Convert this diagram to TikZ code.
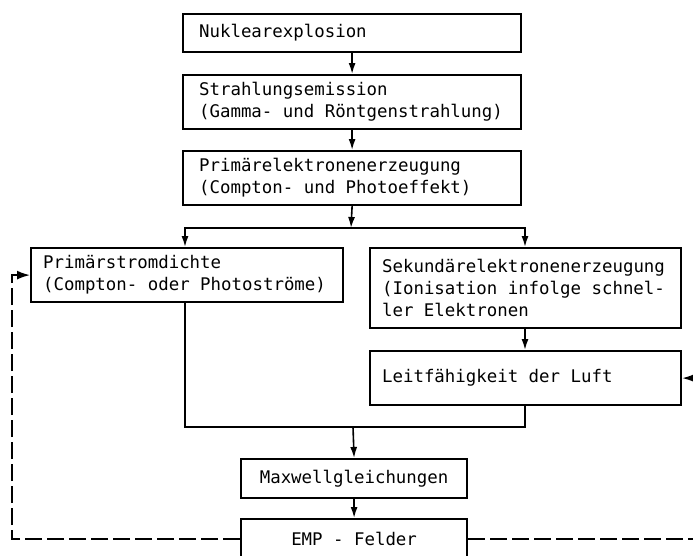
\documentclass[tikz,border=0pt]{standalone}
\usepackage{fontspec}
\setmonofont{DejaVu Sans Mono}
\usetikzlibrary{arrows.meta}
\newcommand{\fixspacing}{\spaceskip=10.47pt plus 0pt minus 0pt\relax}
\tikzset{
  box/.style={draw, line width=2.2pt, rectangle, anchor=north west, align=left,
    font=\ttfamily\fontsize{17.4}{22}\selectfont, inner ysep=0pt,
    execute at begin node=\fixspacing},
  conn/.style={line width=1.6pt, -{Latex[length=11pt,width=7pt]}},
  plainline/.style={line width=1.6pt},
  dashline/.style={line width=1.8pt, dash pattern=on 17pt off 5pt},
  dasharrow/.style={dashline, -{Latex[length=13pt,width=9pt]}},
}
\begin{document}
\begin{tikzpicture}[x=1pt,y=-1pt]
\useasboundingbox (0,0) rectangle (693,555);
\clip (0,0) rectangle (693,555);
\node[box, text width=306pt, inner xsep=16pt, minimum height=38pt] (n1) at (182,13) {Nuklearexplosion};
\node[box, text width=306pt, inner xsep=16pt, minimum height=54pt] (n2) at (182,74) {Strahlungsemission\\(Gamma- und Röntgenstrahlung)};
\node[box, text width=306pt, inner xsep=16pt, minimum height=54pt] (n3) at (182,150) {Primärelektronenerzeugung\\(Compton- und Photoeffekt)};
\node[box, text width=288pt, inner xsep=12pt, minimum height=54pt] (prim) at (30,247) {Primärstromdichte\\(Compton- oder Photoströme)};
\node[box, text width=287pt, inner xsep=12pt, minimum height=80pt] (sek) at (369,247) {Sekundärelektronenerzeugung\\(Ionisation infolge schnel-\\ler Elektronen};
\node[box, text width=287pt, inner xsep=12pt, minimum height=54pt] (leit) at (369,350) {Leitfähigkeit der Luft};
\node[box, align=center, text width=202pt, inner xsep=12pt, minimum height=39pt] (maxw) at (240,458) {Maxwellgleichungen};
\node[box, align=center, text width=202pt, inner xsep=12pt, minimum height=40pt] (emp) at (240,518) {EMP - Felder};

\coordinate (j) at (351,228);
\coordinate (jl) at (185,228);
\coordinate (jr) at (525,228);
\coordinate (ml) at (185,427);
\coordinate (mr) at (525,427);
\coordinate (m) at (353,427);
\coordinate (dl) at (12,0);
\coordinate (dr) at (720,0);

\draw[conn] (n1.south) -- (n2.north);
\draw[conn] (n2.south) -- (n3.north);
\draw[conn] (n3.south) -- (j);
\draw[conn] (j) -- (jl) -- (jl |- prim.north);
\draw[conn] (j) -- (jr) -- (jr |- sek.north);
\draw[conn] (jr |- sek.south) -- (jr |- leit.north);
\draw[plainline] (jl |- prim.south) -- (ml) -- (mr) -- (mr |- leit.south);
\draw[conn] (m) -- (maxw.north);
\draw[conn] (maxw.south) -- (emp.north);
\draw[dasharrow] (emp.west) -- (emp.west -| dl) |- (prim.west);
\draw[dasharrow] (emp.east) -- (emp.east -| dr) |- (leit.east);
\end{tikzpicture}
\end{document}
